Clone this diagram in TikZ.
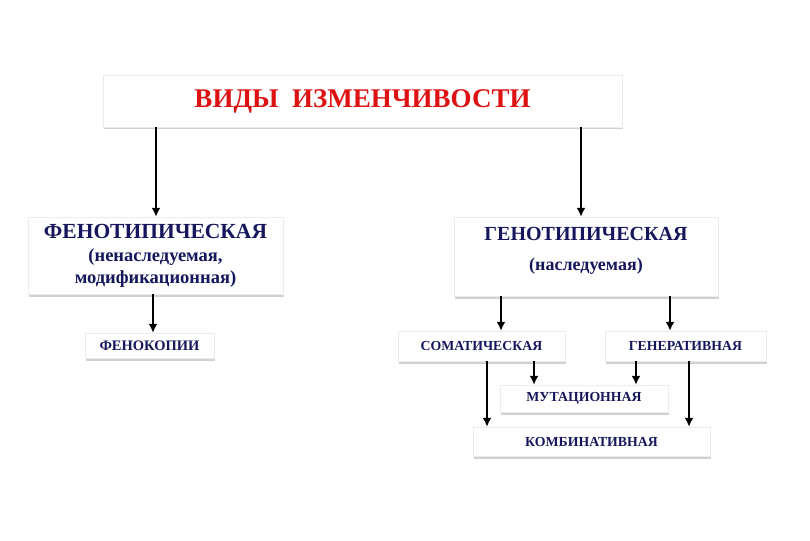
\documentclass[tikz,border=0pt]{standalone}
\usepackage{fontspec}
\setmainfont{Liberation Serif}
\usepackage{xcolor}
\usetikzlibrary{positioning,arrows.meta,shadows}
\definecolor{navytext}{RGB}{22,22,92}
\definecolor{titlered}{RGB}{222,18,18}

\begin{document}
\begin{tikzpicture}[x=1pt, y=-1pt,
		box/.style={draw=gray!15, fill=white, inner sep=0pt, align=center,
								text=navytext, font=\bfseries,
								drop shadow={shadow xshift=1.2pt, shadow yshift=-2.5pt, fill=black!30, opacity=0.6}},
		bigbox/.style={box, font=\bfseries\fontsize{20}{22}\selectfont},
		smallbox/.style={box, font=\bfseries\fontsize{13.8}{15}\selectfont},
		boxtext/.style={align=center, text=navytext, inner sep=0pt},
		arrow/.style={-{Latex[length=9pt,width=9pt]}, line width=2.2pt},
	]
		\useasboundingbox (0,0) rectangle (810,540);

		% Заголовок
		\node[box, minimum width=519pt, minimum height=52pt, text=titlered,
			font=\bfseries\fontsize{27}{30}\selectfont] (vidy) at (362.5,101) {ВИДЫ\ \ ИЗМЕНЧИВОСТИ};

		% Второй уровень
		\node[bigbox, minimum width=255pt, minimum height=77pt] (feno) at (155.5,255.5)
			{{\fontsize{21.5}{23}\selectfont ФЕНОТИПИЧЕСКАЯ}\\[1pt]{\fontsize{18.5}{20}\selectfont (ненаследуемая,}\\{\fontsize{18.5}{20}\selectfont модификационная)}};
		\node[bigbox, minimum width=264pt, minimum height=79pt] (geno) at (586,256.5) {};
		\node[boxtext, font=\bfseries\fontsize{20}{22}\selectfont] (genotxt) at (586,250.5)
			{ГЕНОТИПИЧЕСКАЯ\\[8pt]{\fontsize{18}{20}\selectfont (наследуемая)}};

		% Третий уровень
		\node[smallbox, minimum width=129pt, minimum height=25pt,
			font=\bfseries\fontsize{14.5}{16}\selectfont] (fenokop) at (149.5,345.5) {ФЕНОКОПИИ};
		\node[smallbox, minimum width=167pt, minimum height=30pt] (soma) at (481.5,346) {СОМАТИЧЕСКАЯ};
		\node[smallbox, minimum width=161pt, minimum height=30pt] (gener) at (685.5,346) {ГЕНЕРАТИВНАЯ};
		\node[smallbox, minimum width=168pt, minimum height=27pt] (mutac) at (584,398.5) {МУТАЦИОННАЯ};
		\node[smallbox, minimum width=237pt, minimum height=29pt] (kombi) at (591.5,441.5) {КОМБИНАТИВНАЯ};

		% Стрелки
		\draw[arrow] ([xshift=0.5pt]vidy.south -| feno.north) -- ([xshift=0.5pt]feno.north);
		\draw[arrow] ([xshift=-5pt]vidy.south -| geno.north) -- ([xshift=-5pt]geno.north);
		\draw[arrow] ([xshift=3.5pt]fenokop.north |- feno.south) -- ([xshift=3.5pt]fenokop.north);
		\draw[arrow] ([xshift=19.5pt]soma.north |- geno.south) -- ([xshift=19.5pt]soma.north);
		\draw[arrow] ([xshift=-15.5pt]gener.north |- geno.south) -- ([xshift=-15.5pt]gener.north);
		\draw[arrow] ([xshift=52.5pt]soma.south) -- ([xshift=52.5pt]soma.south |- mutac.north);
		\draw[arrow] ([xshift=-49.5pt]gener.south) -- ([xshift=-49.5pt]gener.south |- mutac.north);
		\draw[arrow] ([xshift=5.5pt]soma.south) -- ([xshift=5.5pt]soma.south |- kombi.north);
		\draw[arrow] ([xshift=3.5pt]gener.south) -- ([xshift=3.5pt]gener.south |- kombi.north);
	\end{tikzpicture}
\end{document}
